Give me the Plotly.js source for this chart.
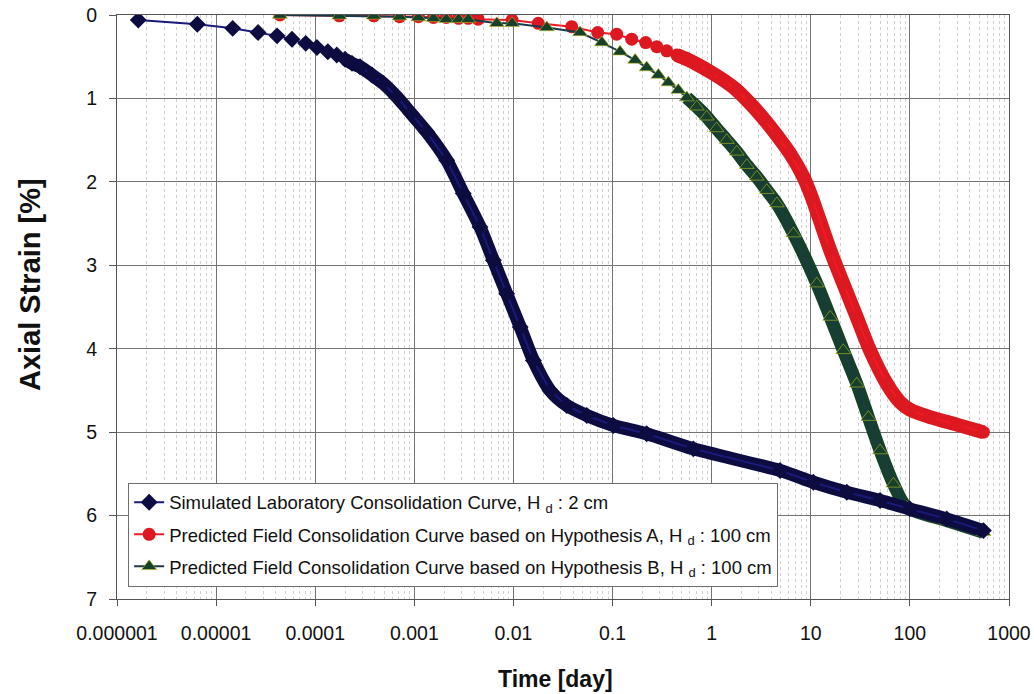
<!DOCTYPE html>
<html>
<head>
<meta charset="utf-8">
<script src="https://cdn.plot.ly/plotly-3.0.1.min.js"></script>
<style>
  html, body { margin: 0; padding: 0; background: #ffffff; }
  #chart { width: 1034px; height: 694px; }
</style>
</head>
<body>
<div id="chart"></div>
<script>
// ---- Data ----
// Simulated laboratory curve (H_d = 2 cm)
var labTime = [1.64e-6, 6.46e-6, 1.47e-5, 2.65e-5, 4.12e-5, 5.83e-5, 8.02e-5, 1.04e-4, 1.34e-4, 1.65e-4,
  2.0e-4, 2.35e-4, 2.83e-4, 3.74e-4, 4.86e-4, 6.64e-4, 9.27e-4, 1.33e-3, 2.12e-3, 3.12e-3,
  4.6e-3, 6.27e-3, 8.55e-3, 0.0117, 0.0159, 0.0234, 0.0345, 0.055, 0.102, 0.221,
  0.653, 4.9, 10.6, 23.1, 50, 100, 235, 552];
var labStrain = [0.06, 0.11, 0.16, 0.21, 0.25, 0.29, 0.34, 0.39, 0.44, 0.48,
  0.53, 0.58, 0.62, 0.72, 0.82, 0.98, 1.18, 1.40, 1.74, 2.14,
  2.54, 2.94, 3.34, 3.74, 4.14, 4.5, 4.68, 4.8, 4.92, 5.02,
  5.2, 5.46, 5.6, 5.72, 5.82, 5.92, 6.04, 6.18];

// Predicted field curve, Hypothesis A (H_d = 100 cm)
var fieldATime = [4.4e-5, 1.75e-4, 3.9e-4, 7.1e-4, 1.1e-3, 1.56e-3, 2.1e-3, 2.8e-3, 3.5e-3, 4.4e-3,
  9.7e-3, 0.0178, 0.0387, 0.0708, 0.11, 0.156, 0.216, 0.279, 0.352, 0.445,
  0.561, 0.708, 0.964, 1.31, 1.79, 2.44, 3.33, 4.54, 6.18, 8.42,
  10.2, 15.7, 21.3, 29.1, 39.6, 58.5, 79.6, 100, 160, 297, 552];
var fieldAStrain = [0.0, 0.01, 0.01, 0.02, 0.02, 0.03, 0.03, 0.04, 0.04, 0.05,
  0.06, 0.1, 0.14, 0.21, 0.23, 0.29, 0.33, 0.38, 0.43, 0.48,
  0.53, 0.59, 0.68, 0.78, 0.9, 1.06, 1.24, 1.44, 1.66, 1.94,
  2.18, 2.82, 3.22, 3.62, 4.02, 4.42, 4.64, 4.73, 4.82, 4.91, 5.0];

// Predicted field curve, Hypothesis B (H_d = 100 cm)
var fieldBTime = [4.4e-5, 1.75e-4, 3.9e-4, 7.1e-4, 1.1e-3, 1.56e-3, 2.1e-3, 2.8e-3, 3.5e-3, 6.8e-3,
  9.7e-3, 0.0217, 0.047, 0.078, 0.119, 0.169, 0.221, 0.29, 0.366, 0.461,
  0.561, 0.708, 0.892, 1.12, 1.42, 1.79, 2.26, 2.85, 3.6, 4.54,
  6.68, 11.5, 15.7, 21.3, 29.1, 38.1, 50, 68.2, 93, 235, 552];
var fieldBStrain = [0.0, 0.01, 0.01, 0.02, 0.03, 0.04, 0.05, 0.05, 0.05, 0.1,
  0.1, 0.15, 0.21, 0.33, 0.44, 0.54, 0.63, 0.72, 0.81, 0.9,
  0.99, 1.1, 1.22, 1.36, 1.5, 1.64, 1.8, 1.94, 2.1, 2.26,
  2.62, 3.22, 3.62, 4.02, 4.42, 4.82, 5.22, 5.62, 5.9, 6.06, 6.2];

var seriesNames = [
  'Simulated Laboratory Consolidation Curve, H <sub>d</sub> : 2 cm',
  'Predicted Field Consolidation Curve based on Hypothesis A, H <sub>d</sub> : 100 cm',
  'Predicted Field Consolidation Curve based on Hypothesis B, H <sub>d</sub> : 100 cm'
];

var xTickVals = [0.000001, 0.00001, 0.0001, 0.001, 0.01, 0.1, 1, 10, 100, 1000];
var xTickText = ['0.000001', '0.00001', '0.0001', '0.001', '0.01', '0.1', '1', '10', '100', '1000'];
var yTickVals = [0, 1, 2, 3, 4, 5, 6, 7];
var xTitle = 'Time [day]';
var yTitle = 'Axial Strain [%]';

// index where the markers become so dense they merge into a band
var labDenseFrom = 10, fieldADenseFrom = 19, fieldBDenseFrom = 20;

var blue = '#0c0c40', blueLine = '#1a1a7a';
var red = '#dc1820', redLine = '#ee1c24';
var green = '#163f2c', greenLine = '#1c3a48';

function band(t, s, from, color, width) {
  return {
    x: t.slice(from), y: s.slice(from), type: 'scatter', mode: 'lines',
    line: {color: color, width: width, shape: 'spline', smoothing: 0.7},
    showlegend: false, hoverinfo: 'skip'
  };
}

var traces = [
  band(fieldATime, fieldAStrain, fieldADenseFrom, red, 14),
  {
    x: fieldATime, y: fieldAStrain, type: 'scatter', mode: 'lines+markers', name: seriesNames[1],
    legendgroup: 'b', legendrank: 2,
    line: {color: redLine, width: 2},
    marker: {symbol: 'circle', size: 13, color: red}
  },
  band(fieldBTime, fieldBStrain, fieldBDenseFrom, green, 13),
  {
    x: fieldBTime, y: fieldBStrain, type: 'scatter', mode: 'lines+markers', name: seriesNames[2],
    legendgroup: 'c', legendrank: 3,
    line: {color: greenLine, width: 2},
    marker: {symbol: 'triangle-up', size: 13, color: green, line: {color: '#b8c020', width: 0.6}}
  },
  band(labTime, labStrain, labDenseFrom, blue, 13),
  {
    x: labTime, y: labStrain, type: 'scatter', mode: 'lines+markers', name: seriesNames[0],
    legendgroup: 'a', legendrank: 1,
    line: {color: blueLine, width: 2},
    marker: {symbol: 'diamond', size: 13, color: blue}
  }
];

var layout = {
  width: 1034, height: 694,
  margin: {l: 117, r: 25, t: 15, b: 95},
  paper_bgcolor: '#ffffff', plot_bgcolor: '#ffffff',
  font: {family: '"Liberation Sans", Arial, sans-serif', color: '#111111'},
  showlegend: true,
  legend: {
    x: 0.0125, y: 0.021, xanchor: 'left', yanchor: 'bottom',
    bgcolor: '#ffffff', bordercolor: '#6e6e6e', borderwidth: 1,
    font: {size: 18.5, color: '#111111'},
    traceorder: 'grouped', tracegroupgap: 5,
    itemwidth: 30
  },
  xaxis: {
    type: 'log', range: [-6, 3], autorange: false,
    tickmode: 'array', tickvals: xTickVals, ticktext: xTickText,
    tickfont: {size: 19.5, color: '#111111'},
    ticks: 'outside', ticklen: 6, tickcolor: '#555555',
    ticklabelstandoff: 11,
    showgrid: true, gridcolor: '#737373', gridwidth: 1,
    minor: {dtick: 'D1', showgrid: true, gridcolor: '#cfcfcf', griddash: 'dot', gridwidth: 1, ticks: ''},
    showline: true, linecolor: '#555555', linewidth: 1, mirror: true,
    zeroline: false
  },
  yaxis: {
    range: [7, 0], autorange: false,
    tickmode: 'array', tickvals: yTickVals,
    tickfont: {size: 19.5, color: '#111111'},
    ticks: 'outside', ticklen: 7, tickcolor: '#555555',
    ticklabelstandoff: 8,
    showgrid: true, gridcolor: '#737373', gridwidth: 1,
    showline: true, linecolor: '#555555', linewidth: 1, mirror: true,
    zeroline: false
  },
  annotations: [
    {
      text: '<b>' + xTitle + '</b>', xref: 'paper', yref: 'paper',
      x: (555 - 117) / 892, y: -(679 - 599) / 584, xanchor: 'center', yanchor: 'middle',
      showarrow: false, font: {size: 23, color: '#111111'}
    },
    {
      text: '<b>' + yTitle + '</b>', xref: 'paper', yref: 'paper', textangle: -90,
      x: -(117 - 30) / 892, y: (599 - 285) / 584, xanchor: 'center', yanchor: 'middle',
      showarrow: false, font: {size: 29, color: '#111111'}
    }
  ]
};

Plotly.newPlot('chart', traces, layout, {displayModeBar: false, staticPlot: true});
</script>
</body>
</html>
